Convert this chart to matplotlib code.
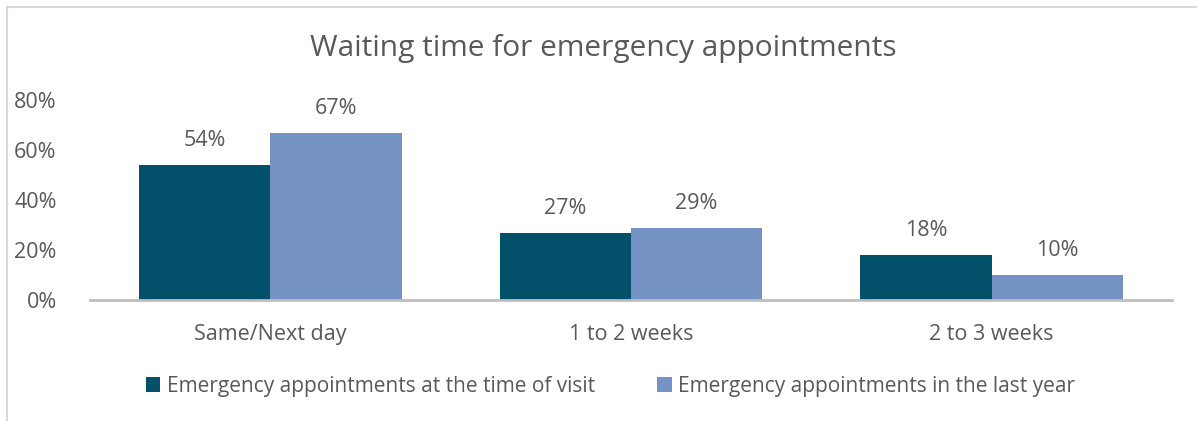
import matplotlib.pyplot as plt
import numpy as np
from matplotlib.patches import Rectangle

categories = ['Same/Next day', '1 to 2 weeks', '2 to 3 weeks']
at_visit = [54, 27, 18]
last_year = [67, 29, 10]
series_names = ['Emergency appointments at the time of visit',
                'Emergency appointments in the last year']

dark = '#03506A'
light = '#7592C4'
txt = '#595959'

plt.rcParams['font.family'] = ['Open Sans', 'DejaVu Sans']

fig = plt.figure(figsize=(11.97, 4.21), dpi=100)
ax = fig.add_axes([90/1197, 121/421, 1082/1197, 200/421])

x = np.arange(len(categories))
w = 0.364
b1 = ax.bar(x - w/2, at_visit, w, color=dark, label=series_names[0])
b2 = ax.bar(x + w/2, last_year, w, color=light, label=series_names[1])

for bars, vals in ((b1, at_visit), (b2, last_year)):
    for r, v in zip(bars, vals):
        ax.text(r.get_x() + r.get_width()/2, v + 5.5, f'{v}%', ha='center',
                va='bottom', fontsize=15.5, color=txt)

ax.set_xlim(-0.5, 2.5)
ax.set_ylim(0, 80)
ax.set_yticks([0, 20, 40, 60, 80])
ax.set_yticklabels([f'{t}%' for t in [0, 20, 40, 60, 80]])
ax.set_xticks(x)
ax.set_xticklabels(categories)
ax.tick_params(axis='both', length=0, labelsize=15.5, colors=txt)
ax.tick_params(axis='x', pad=17)
ax.tick_params(axis='y', pad=24)
for s in ['top', 'right', 'left']:
    ax.spines[s].set_visible(False)
ax.spines['bottom'].set_color('#BFBFBF')
ax.spines['bottom'].set_linewidth(2)

fig.text(0.504, 0.885, 'Waiting time for emergency appointments', ha='center',
         va='center', fontsize=21.5, color=txt)

fig.legend(loc='center', bbox_to_anchor=(0.51, 0.082), ncol=2, frameon=False,
           fontsize=15, labelcolor=txt, handlelength=0.7, handleheight=0.7,
           handletextpad=0.3, columnspacing=3.0)

# chart area border (left and top edges visible)
fig.add_artist(Rectangle((7/1197, -0.1), 1.2, (421 - 7)/421 + 0.1,
                         transform=fig.transFigure, fill=False,
                         edgecolor='#D9D9D9', linewidth=1.5))

fig.savefig('out.png', dpi=100)
